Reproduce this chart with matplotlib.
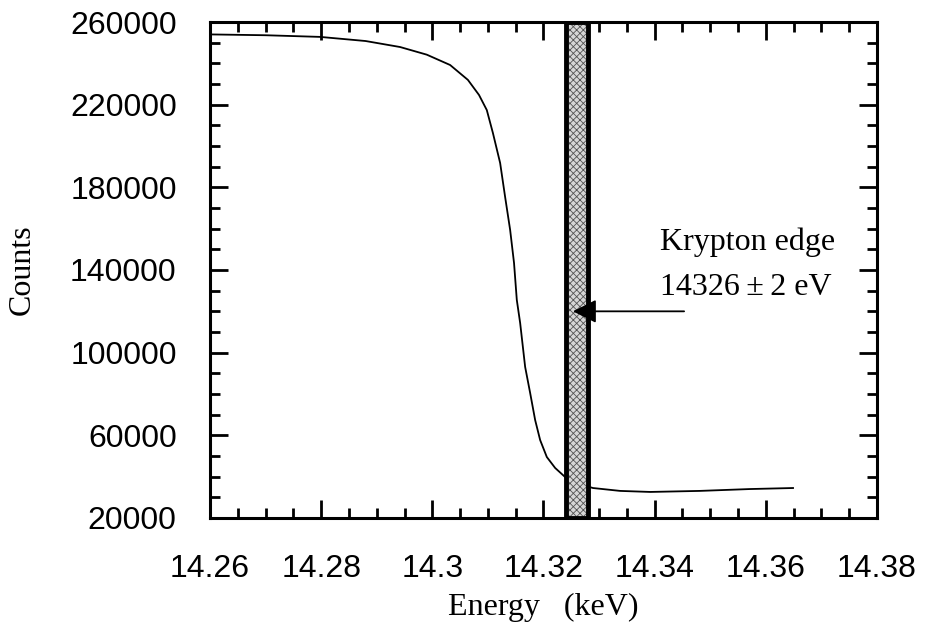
import numpy as np
import matplotlib
matplotlib.use("Agg")
import matplotlib.pyplot as plt
from matplotlib.ticker import MultipleLocator

# transmission scan across the krypton K edge
energy = [14.260, 14.2700, 14.2798, 14.2880, 14.2942, 14.2990, 14.3032, 14.3064,
          14.3084, 14.3098, 14.3109, 14.3122, 14.3131, 14.3140, 14.3147, 14.3152,
          14.3158, 14.3167, 14.3176, 14.3185, 14.3194, 14.3206, 14.3221, 14.3239,
          14.3264, 14.3289, 14.3338, 14.3392, 14.3481, 14.3571, 14.3649]
counts = [254000, 253600, 252800, 250800, 247900, 244200, 239200, 232000,
          224700, 217400, 206300, 191800, 175300, 159400, 143400, 125500,
          114400, 93100, 80500, 67400, 57700, 49500, 44200, 39800,
          36500, 34500, 33100, 32600, 33100, 34000, 34500]

edge_lo, edge_hi = 14.324, 14.328
arrow_tail = (14.3458, 120000)
arrow_head = (14.3248, 120000)

xticks = [14.26, 14.28, 14.30, 14.32, 14.34, 14.36, 14.38]
xticklabels = ["14.26", "14.28", "14.3", "14.32", "14.34", "14.36", "14.38"]
yticks = [20000, 60000, 100000, 140000, 180000, 220000, 260000]

sans = ["Liberation Sans", "DejaVu Sans"]
serif = ["Liberation Serif", "DejaVu Serif"]
plt.rcParams["hatch.linewidth"] = 0.6

fig = plt.figure(figsize=(9.28, 6.29), dpi=100)
ax = fig.add_axes([0.2263, 0.1765, 0.7187, 0.7885])

ax.plot(energy, counts, color="black", lw=1.3, zorder=2)

ax.axvspan(edge_lo, edge_hi, facecolor="#d6d6d6", edgecolor="#555555",
           hatch="xxxxx", lw=0, zorder=3)
ax.axvspan(edge_lo, edge_hi, fill=False, edgecolor="black", lw=3.5, zorder=4)

ax.annotate("", xy=arrow_head, xytext=arrow_tail, zorder=5,
            arrowprops=dict(arrowstyle="-|>", color="black", lw=1.3,
                            mutation_scale=36))
ax.text(14.341, 153600, "Krypton edge", family=serif, fontsize=23,
        va="center", ha="left")
ax.text(14.341, 131300, "14326\u2009\u00b1\u20092 eV", family=serif, fontsize=23,
        va="center", ha="left")

ax.set_xlim(14.26, 14.38)
ax.set_ylim(20000, 260000)
ax.set_xticks(xticks)
ax.set_xticklabels(xticklabels, family=sans, fontsize=23)
ax.set_yticks(yticks)
ax.set_yticklabels([str(v) for v in yticks], family=sans, fontsize=23)
ax.xaxis.set_minor_locator(MultipleLocator(0.005))
ax.yaxis.set_minor_locator(MultipleLocator(10000))
ax.tick_params(which="both", direction="in", top=True, right=True, width=2)
ax.tick_params(which="major", length=13)
ax.tick_params(which="minor", length=7)
ax.tick_params(axis="x", which="major", pad=26)
ax.tick_params(axis="y", which="major", pad=24)
for s in ax.spines.values():
    s.set_linewidth(2.2)

ax.set_xlabel("Energy   (keV)", family=serif, fontsize=23, labelpad=6)
fig.text(0.024, 0.572, "Counts", family=serif, fontsize=23, rotation=90,
         ha="center", va="center")

fig.savefig("out.png", dpi=100)
